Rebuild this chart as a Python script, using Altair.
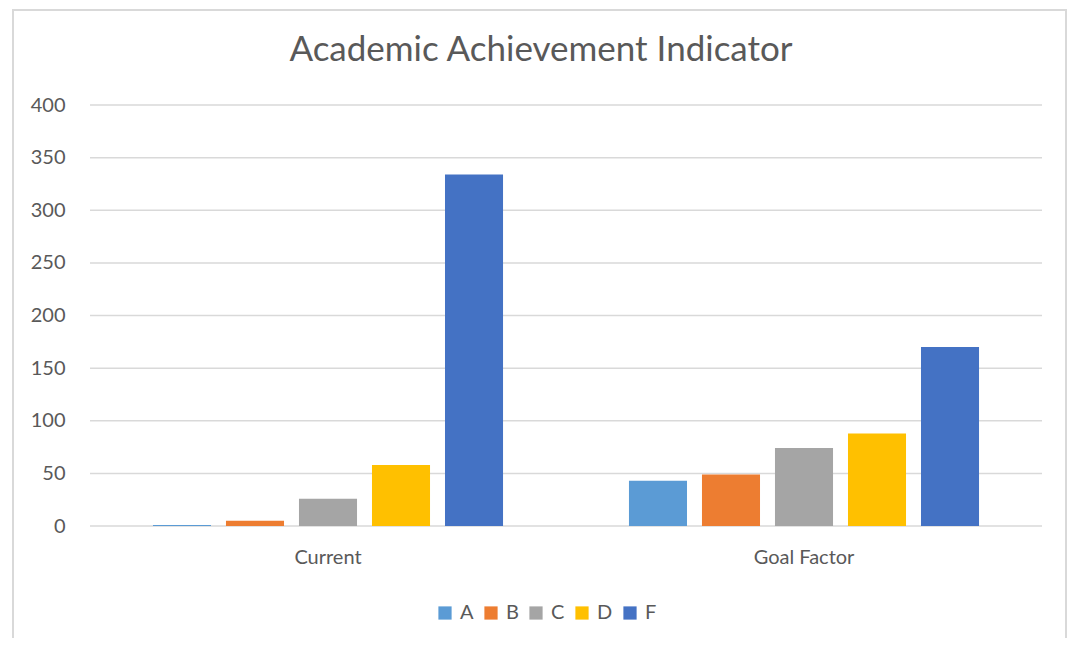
import altair as alt
import pandas as pd

chart_title = "Academic Achievement Indicator"
categories = ["Current", "Goal Factor"]
grades = ["A", "B", "C", "D", "F"]
current_values = [1, 5, 26, 58, 334]
goal_values = [43, 49, 74, 88, 170]
grade_colors = ["#5B9BD5", "#ED7D31", "#A5A5A5", "#FFC000", "#4472C4"]
y_ticks = [0, 50, 100, 150, 200, 250, 300, 350, 400]

rows = []
for g, v in zip(grades, current_values):
    rows.append({"category": "Current", "grade": g, "value": v})
for g, v in zip(grades, goal_values):
    rows.append({"category": "Goal Factor", "grade": g, "value": v})
df = pd.DataFrame(rows)

FONT = "Lato"
TXT = "#595959"
W, H = 952, 421
yscale = alt.Scale(domain=[0, 400])
yaxis = alt.Axis(title=None, values=y_ticks, labelFontSize=20, labelColor=TXT,
                 labelFont=FONT, domain=False, ticks=False, grid=False, labelPadding=25)

grid = alt.Chart(pd.DataFrame({"tick": y_ticks})).mark_rule(
    color="#D9D9D9", strokeWidth=1.5
).encode(
    y=alt.Y("tick:Q", scale=yscale, axis=yaxis),
    x=alt.value(0), x2=alt.value(W),
)

bars = alt.Chart(df).mark_bar().encode(
    x=alt.X("category:N", sort=categories,
            scale=alt.Scale(paddingInner=0, paddingOuter=0),
            axis=alt.Axis(title=None, labelAngle=0, labelFontSize=20, labelColor=TXT,
                          labelFont=FONT, domain=False, ticks=False, grid=False,
                          labelPadding=21)),
    xOffset=alt.XOffset("grade:N", sort=grades,
                        scale=alt.Scale(paddingInner=0.205, paddingOuter=0.8625)),
    y=alt.Y("value:Q", scale=yscale, axis=yaxis),
    color=alt.Color("grade:N", sort=grades,
                    scale=alt.Scale(domain=grades, range=grade_colors),
                    legend=alt.Legend(title=None, orient="none", direction="horizontal",
                                      legendX=345, legendY=498, symbolType="square",
                                      symbolSize=175, symbolStrokeWidth=0,
                                      labelFontSize=20, labelColor=TXT, labelFont=FONT,
                                      columnPadding=7, labelOffset=5)),
)

title_mark = alt.Chart(pd.DataFrame({"t": [chart_title]})).mark_text(
    font=FONT, fontSize=35, color=TXT, baseline="middle", align="center", clip=False
).encode(text="t:N", x=alt.value(451), y=alt.value(-55))

border = alt.Chart(pd.DataFrame({"k": [0]})).mark_rect(
    fill=None, stroke="#D9D9D9", strokeWidth=2, clip=False
).encode(
    x=alt.value(-77), x2=alt.value(976), y=alt.value(-95), y2=alt.value(540)
)

chart = alt.layer(grid, bars, title_mark, border).properties(
    width=W, height=H,
    view=alt.ViewBackground(stroke="transparent", strokeWidth=0),
    autosize=alt.AutoSizeParams(type="none"),
    padding={"left": 82, "top": 97, "right": 26, "bottom": 112},
).configure_view(strokeWidth=0, stroke="transparent").configure_axis(grid=False).configure(background="white")

chart.save("out.html", embed_options={"renderer": "svg", "actions": False})
